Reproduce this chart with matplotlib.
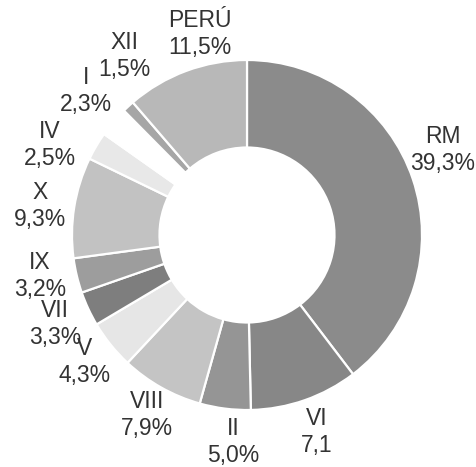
import matplotlib
matplotlib.use("Agg")
import matplotlib.pyplot as plt

# regions in drawing order (clockwise from 12 o'clock)
regions = ["RM", "VI", "II", "VIII", "V", "VII", "IX", "X", "IV", "I", "XII", "PERÚ"]
# shares as printed on the chart
share_text = ["39,3%", "7,1", "5,0%", "7,9%", "4,3%", "3,3%", "3,2%", "9,3%", "2,5%", "2,3%", "1,5%", "11,5%"]
sizes = [39.6, 10.0, 4.7, 7.6, 4.5, 3.2, 3.2, 9.3, 2.6, 2.8, 1.1, 11.3]
colors = ["#8b8b8b", "#878787", "#959595", "#c4c4c4", "#e6e6e6", "#7e7e7e",
          "#9d9d9d", "#c2c2c2", "#e8e8e8", "#ffffff", "#a6a6a6", "#b8b8b8"]

# label centres in pixel coords (x from left, y from top)
label_pos = [(443, 150), (317, 432), (233, 442), (147, 415), (85, 362), (55, 324),
             (40, 276), (40, 206), (50, 145), (86, 91), (124, 56), (200, 34)]

W, H = 476, 467
fig = plt.figure(figsize=(W / 100, H / 100), dpi=100)
ax = fig.add_axes([0, 0, 1, 1])

cx, cy, R = 247, H - 235, 175
ax.pie(sizes, colors=colors, startangle=90, counterclock=False,
       center=(cx, cy), radius=R,
       wedgeprops=dict(width=R * 0.5, edgecolor="white", linewidth=1.6))

for name, txt, (px, py) in zip(regions, share_text, label_pos):
    ax.text(px, H - py, name + "\n" + txt, ha="center", va="center",
            fontsize=16.5, color="#333333", family="Liberation Sans",
            linespacing=1.2)

ax.set_xlim(0, W)
ax.set_ylim(0, H)
ax.set_aspect("equal")
ax.axis("off")

fig.savefig("out.png", dpi=100, facecolor="white")
